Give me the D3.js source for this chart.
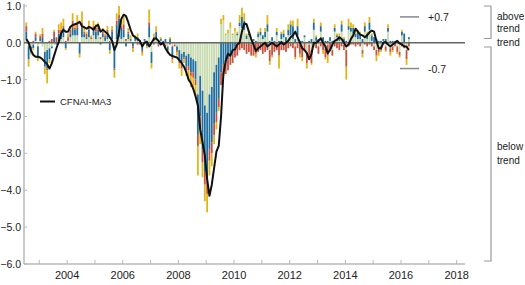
<!DOCTYPE html>
<html lang="en">
<head>
<meta charset="utf-8">
<title>CFNAI contributions</title>
<script src="https://d3js.org/d3.v7.min.js"></script>
<style>
  body { margin: 0; background: #fff; }
  text { font-family: "Liberation Sans", Arial, sans-serif; }
</style>
</head>
<body>
<div id="chart"></div>
<script>
// monthly data, July 2002 - April 2016
var startYear = 2002, startMonth = 6;

// production and income (sage)
var production = [
  0.1, -0.1, -0.1, -0.05, 0.05, -0.1,
  0.05, -0.1, -0.25, -0.2, -0.15, -0.1, -0.05, 0.0, 0.05, 0.1, 0.15, 0.0,
  0.05, 0.15, 0.2, 0.2, 0.2, 0.0, 0.15, 0.15, 0.1, 0.15, 0.1, 0.2,
  0.1, 0.2, 0.1, 0.15, 0.05, 0.1, 0.0, 0.1, -0.1, 0.1, 0.15, 0.1,
  0.15, 0.05, 0.1, 0.05, 0.0, 0.05, 0.05, 0.05, -0.05, 0.05, 0.0, 0.15,
  -0.25, 0.05, 0.1, 0.0, 0.05, 0.0, -0.05, -0.1, 0.0, -0.1, -0.05, -0.1,
  -0.2, -0.3, -0.25, -0.35, -0.3, -0.4, -0.45, -0.5, -1.4, -0.9, -1.3, -1.7,
  -1.9, -1.4, -1.2, -0.8, -0.6, -0.4, 0.5, 0.6, 0.2, 0.25, 0.4, 0.2,
  0.3, 0.2, 0.45, 0.4, 0.35, 0.1, 0.2, 0.1, 0.05, 0.0, 0.15, 0.2,
  0.1, 0.15, 0.3, -0.2, 0.05, 0.0, 0.2, -0.05, 0.1, 0.15, 0.0, 0.2,
  0.2, 0.1, -0.1, 0.2, -0.05, -0.1, 0.15, -0.3, -0.05, -0.2, 0.35, 0.05,
  -0.1, 0.3, 0.05, -0.15, -0.05, 0.05, -0.2, 0.3, 0.15, 0.05, 0.3, -0.05,
  -0.2, 0.35, 0.3, 0.25, 0.15, 0.1, 0.1, -0.2, 0.3, 0.1, 0.35, 0.05,
  -0.1, -0.2, -0.15, -0.1, 0.05, -0.1, 0.3, -0.15, -0.1, 0.0, -0.1, -0.25,
  0.2, -0.05, -0.2, 0.1
];

// employment, unemployment and hours (blue)
var employment = [
  0.2, -0.35, -0.15, -0.1, 0.1, -0.3,
  0.05, 0.15, -0.4, -0.5, -0.3, -0.05, 0.15, -0.05, 0.2, 0.15, 0.25, -0.15,
  0.0, 0.1, 0.2, 0.15, 0.2, -0.3, 0.25, 0.1, 0.05, 0.2, 0.0, 0.15,
  0.2, 0.15, -0.05, 0.1, 0.1, 0.15, -0.2, 0.2, -0.6, 0.4, 0.5, 0.3,
  0.2, -0.1, 0.15, 0.05, -0.1, 0.1, 0.1, 0.0, -0.15, 0.05, -0.1, 0.3,
  -0.3, 0.1, 0.2, -0.05, 0.05, 0.05, 0.1, -0.1, 0.1, -0.3, 0.0, -0.1,
  -0.25, -0.3, -0.15, -0.3, -0.35, -0.4, -0.35, -0.5, -1.1, -1.1, -1.6, -1.8,
  -1.8, -1.5, -1.5, -1.4, -1.3, -1.1, -0.8, -0.6, -0.5, -0.45, -0.35, -0.3,
  -0.1, 0.05, 0.1, 0.3, 0.25, 0.1, 0.05, -0.05, 0.05, 0.05, 0.1, 0.1,
  0.1, 0.15, 0.2, 0.05, 0.1, 0.05, 0.1, 0.05, 0.15, 0.1, 0.15, 0.15,
  0.3, 0.35, 0.1, 0.25, 0.05, 0.05, 0.05, 0.0, 0.05, 0.1, 0.2, 0.1,
  0.1, 0.15, 0.1, 0.05, 0.05, 0.1, 0.05, 0.1, 0.05, 0.1, 0.2, 0.1,
  0.05, 0.1, 0.1, 0.15, 0.1, 0.2, 0.15, 0.1, 0.15, 0.15, 0.2, 0.15,
  0.15, 0.1, 0.05, 0.05, 0.05, 0.1, 0.1, 0.05, 0.05, 0.05, 0.05, 0.0,
  0.1, 0.25, 0.0, 0.05
];

// personal consumption and housing (red)
var consumption = [
  0.15, 0.0, -0.02, 0.05, 0.1, 0.0,
  0.08, 0.1, 0.0, -0.05, 0.05, 0.1, 0.15, 0.15, 0.1, 0.1, 0.05, 0.05,
  0.1, 0.1, 0.2, 0.05, 0.15, 0.0, 0.15, 0.05, 0.1, 0.1, 0.05, 0.1,
  0.1, 0.05, 0.05, 0.05, 0.05, 0.1, 0.05, 0.05, -0.05, 0.1, 0.1, 0.05,
  0.15, 0.05, 0.05, 0.0, -0.05, 0.0, -0.05, -0.05, -0.05, 0.0, 0.0, 0.1,
  0.0, -0.05, 0.0, -0.05, -0.05, -0.05, -0.05, -0.05, -0.05, -0.05, -0.05, -0.05,
  -0.1, -0.1, -0.05, -0.1, -0.1, -0.1, -0.15, -0.15, -0.3, -0.3, -0.35, -0.35,
  -0.4, -0.3, -0.3, -0.3, -0.25, -0.25, -0.35, -0.3, -0.35, -0.3, -0.25, -0.25,
  -0.3, -0.35, -0.2, -0.15, -0.2, -0.3, -0.25, -0.3, -0.35, -0.3, -0.25, -0.2,
  -0.3, -0.25, -0.2, -0.3, -0.35, -0.25, -0.2, -0.3, -0.2, -0.2, -0.25, -0.15,
  -0.1, -0.15, -0.3, -0.15, -0.25, -0.3, -0.2, -0.25, -0.3, -0.35, -0.1, -0.15,
  -0.2, -0.1, -0.2, -0.25, -0.3, -0.2, -0.15, -0.1, -0.15, -0.2, -0.1, -0.15,
  -0.45, -0.1, -0.05, -0.05, -0.1, -0.05, -0.1, -0.1, -0.05, -0.1, -0.05, -0.1,
  -0.1, -0.15, -0.1, -0.1, -0.05, -0.1, -0.05, -0.1, -0.1, -0.1, -0.15, -0.1,
  -0.1, -0.1, -0.25, -0.1
];

// sales, orders and inventories (yellow)
var sales = [
  0.1, -0.2, -0.05, -0.05, 0.05, -0.1,
  0.05, 0.15, -0.2, -0.35, -0.1, 0.0, 0.05, 0.0, 0.15, 0.2, 0.2, -0.05,
  0.1, 0.1, 0.2, 0.1, 0.2, -0.1, 0.3, 0.1, 0.05, 0.15, 0.05, 0.15,
  0.1, 0.15, 0.0, 0.1, 0.05, 0.1, -0.1, 0.1, -0.2, 0.2, 0.25, 0.15,
  0.2, 0.0, 0.1, 0.1, -0.1, 0.05, 0.1, 0.0, -0.1, 0.0, -0.05, 0.35,
  -0.15, 0.1, 0.15, 0.0, 0.05, 0.0, 0.0, -0.05, 0.05, -0.1, 0.0, -0.1,
  -0.15, -0.2, -0.1, -0.15, -0.25, -0.3, -0.25, -0.3, -0.8, -0.45, -0.4, -0.45,
  -0.5, -0.4, -0.35, -0.25, -0.2, -0.1, 0.15, 0.15, 0.05, 0.1, 0.15, 0.05,
  0.1, 0.05, 0.2, 0.25, 0.2, 0.05, 0.05, 0.0, 0.0, -0.1, 0.05, 0.1,
  0.0, 0.1, 0.25, -0.1, -0.05, 0.0, 0.1, -0.35, 0.05, 0.1, 0.0, 0.15,
  0.1, 0.15, -0.05, 0.2, -0.1, -0.1, 0.0, -0.15, -0.1, -0.05, 0.1, 0.05,
  0.0, 0.1, -0.1, -0.05, -0.2, 0.0, 0.0, 0.1, 0.05, 0.1, 0.1, 0.05,
  -0.35, 0.2, 0.15, 0.1, 0.1, 0.05, 0.05, -0.1, 0.1, 0.05, 0.15, 0.05,
  0.0, -0.15, -0.1, -0.05, 0.0, -0.05, 0.1, -0.1, -0.05, 0.0, -0.05, -0.05,
  0.05, 0.0, -0.15, 0.0
];

// CFNAI-MA3 (black line)
var ma3 = [
  0.1, 0.0, -0.2, -0.33, -0.38, -0.38,
  -0.4, -0.45, -0.52, -0.58, -0.7, -0.56, -0.35, -0.15, 0.02, 0.25, 0.35, 0.3,
  0.3, 0.43, 0.48, 0.5, 0.52, 0.57, 0.45, 0.42, 0.38, 0.43, 0.4, 0.35,
  0.45, 0.48, 0.3, 0.35, 0.3, 0.25, 0.15, 0.05, -0.2, -0.05, 0.3, 0.65,
  0.76, 0.72, 0.55, 0.35, 0.2, 0.15, 0.1, 0.05, -0.1, 0.0, 0.03, -0.1,
  0.0, 0.1, 0.12, 0.05, -0.05, 0.0, -0.15, -0.25, -0.33, -0.36, -0.38, -0.4,
  -0.47, -0.55, -0.65, -0.8, -1.0, -1.1, -1.25, -1.45, -1.7, -2.35, -2.7, -3.05,
  -3.7, -4.15, -3.85, -3.4, -2.95, -2.8, -2.0, -0.85, -0.5, -0.3, -0.35, -0.2,
  -0.18, -0.05, 0.0, 0.3, 0.52, 0.5, 0.3, 0.1, -0.05, -0.22, -0.15, -0.1,
  -0.05, 0.0, -0.1, -0.05, 0.0, -0.05, -0.1, -0.05, 0.02, -0.05, 0.0, 0.05,
  0.15, 0.2, 0.3, 0.15, 0.0, -0.15, -0.2, -0.28, -0.45, -0.3, 0.0, 0.0,
  0.05, 0.12, 0.0, -0.1, -0.28, -0.2, -0.05, 0.05, 0.08, 0.15, 0.1, 0.0,
  -0.1, -0.05, 0.1, 0.2, 0.38, 0.3, 0.22, 0.2, 0.15, 0.2, 0.28, 0.33,
  0.3, 0.05, -0.15, -0.15, 0.0, 0.02, -0.05, -0.1, -0.05, 0.0, 0.05, -0.02,
  -0.05, -0.1, -0.1, -0.2
];

var seriesKeys = ['production', 'employment', 'consumption', 'sales'];
var seriesColors = ['#c8dab0', '#216f9f', '#c8523e', '#e0b718'];
var yTicks = [1, 0, -1, -2, -3, -4, -5, -6];
var xTicks = d3.range(2003, 2019);
var xLabels = [2004, 2006, 2008, 2010, 2012, 2014, 2016, 2018];

var W = 525, H = 285;
var svg = d3.select("#chart").append("svg")
    .attr("width", W).attr("height", H);

var x = d3.scaleLinear().domain([2002.45, 2018.3]).range([24, 465]);
var y = d3.scaleLinear().domain([-6, 1.05]).range([264, 4]);

var rows = production.map(function(v, i) {
  return {
    t: startYear + (startMonth + i) / 12,
    production: v,
    employment: employment[i],
    consumption: consumption[i],
    sales: sales[i],
    ma3: ma3[i]
  };
});

var stack = d3.stack().keys(seriesKeys).offset(d3.stackOffsetDiverging);
var layers = stack(rows);
var barW = 1.8;

// bars
svg.append("g").selectAll("g")
  .data(layers)
  .enter().append("g")
  .attr("fill", function(d, i) { return seriesColors[i]; })
  .selectAll("rect")
  .data(function(d) { return d; })
  .enter().append("rect")
  .attr("x", function(d) { return x(d.data.t); })
  .attr("width", barW)
  .attr("y", function(d) { return y(d[1]); })
  .attr("height", function(d) { return Math.max(0, y(d[0]) - y(d[1])); });

// axes
var axisColor = "#b8b8b8";
svg.append("line")
  .attr("x1", 24).attr("x2", 24).attr("y1", 4).attr("y2", 264)
  .attr("stroke", axisColor).attr("stroke-width", 1.5);
svg.append("line")
  .attr("x1", 24).attr("x2", 465).attr("y1", 264).attr("y2", 264)
  .attr("stroke", axisColor).attr("stroke-width", 1.5);

svg.append("g").selectAll("line")
  .data(yTicks).enter().append("line")
  .attr("x1", 24).attr("x2", 27)
  .attr("y1", function(d) { return y(d); }).attr("y2", function(d) { return y(d); })
  .attr("stroke", axisColor);
svg.append("g").selectAll("text")
  .data(yTicks).enter().append("text")
  .attr("x", 21).attr("y", function(d) { return y(d) + 4; })
  .attr("text-anchor", "end")
  .attr("font-size", 10.5).attr("fill", "#222")
  .text(function(d) { return d3.format(".1f")(d); });

svg.append("g").selectAll("line")
  .data(xTicks).enter().append("line")
  .attr("x1", function(d) { return x(d); }).attr("x2", function(d) { return x(d); })
  .attr("y1", 264).attr("y2", 260)
  .attr("stroke", axisColor);
svg.append("g").selectAll("text")
  .data(xLabels).enter().append("text")
  .attr("x", function(d) { return x(d); }).attr("y", 279)
  .attr("text-anchor", "middle")
  .attr("font-size", 11).attr("fill", "#222")
  .text(function(d) { return d; });

// trend line
svg.append("line")
  .attr("x1", 24).attr("x2", 465).attr("y1", y(0)).attr("y2", y(0))
  .attr("stroke", "#666").attr("stroke-width", 1.5);

// +/-0.7 markers
[0.7, -0.7].forEach(function(v) {
  svg.append("line")
    .attr("x1", 400).attr("x2", 419).attr("y1", y(v)).attr("y2", y(v))
    .attr("stroke", "#888").attr("stroke-width", 1.5);
  svg.append("text")
    .attr("x", 428).attr("y", y(v) + 4)
    .attr("font-size", 10.5).attr("fill", "#222")
    .text(v > 0 ? "+0.7" : "-0.7");
});

// MA3 line
var line = d3.line()
  .x(function(d) { return x(d.t) + barW / 2; })
  .y(function(d) { return y(d.ma3); });
svg.append("path")
  .datum(rows)
  .attr("d", line)
  .attr("fill", "none").attr("stroke", "#111").attr("stroke-width", 2)
  .attr("stroke-linejoin", "round");

// legend
svg.append("line")
  .attr("x1", 40).attr("x2", 55).attr("y1", 101.5).attr("y2", 101.5)
  .attr("stroke", "#111").attr("stroke-width", 2);
svg.append("text")
  .attr("x", 60).attr("y", 105)
  .attr("font-size", 9.5).attr("fill", "#222")
  .text("CFNAI-MA3");

// right side brackets
function bracket(y1, y2) {
  svg.append("path")
    .attr("d", "M484," + y1 + "H491V" + y2 + "H484")
    .attr("fill", "none").attr("stroke", "#999").attr("stroke-width", 1.2);
}
bracket(6, 38.5);
bracket(47, 261);

var sideLabels = [["above", 20], ["trend", 32], ["trend", 46], ["below", 150], ["trend", 164]];
svg.append("g").selectAll("text")
  .data(sideLabels).enter().append("text")
  .attr("x", 497).attr("y", function(d) { return d[1]; })
  .attr("font-size", 10).attr("fill", "#222")
  .text(function(d) { return d[0]; });
</script>
</body>
</html>
